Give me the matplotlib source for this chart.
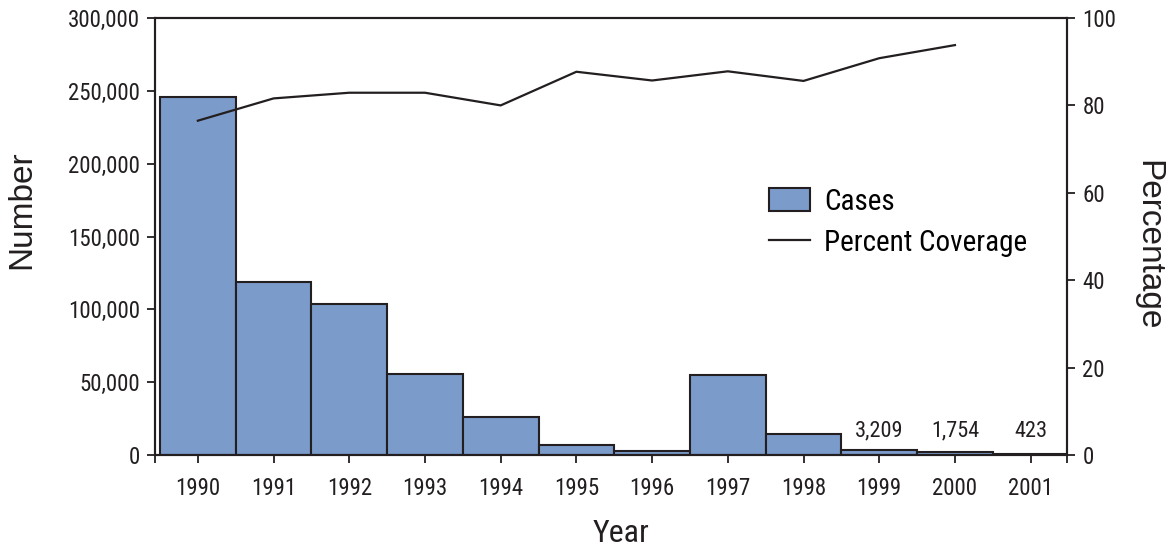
import matplotlib
matplotlib.use("Agg")
import matplotlib.pyplot as plt
import matplotlib.transforms as mtransforms
from matplotlib.ticker import FuncFormatter, FixedLocator

years = ["1990", "1991", "1992", "1993", "1994", "1995", "1996", "1997", "1998", "1999", "2000", "2001"]
cases = [246000, 118500, 104000, 55800, 25800, 6700, 2800, 54800, 14300, 3209, 1754, 423]
coverage = [76.5, 81.6, 82.9, 82.9, 80.0, 87.7, 85.7, 87.8, 85.6, 90.8, 93.8]
labeled = {9: "3,209", 10: "1,754", 11: "423"}

NARROW = ["Roboto Condensed", "Archivo Narrow", "DejaVu Sans"]
REG = ["Liberation Sans", "Arimo", "DejaVu Sans"]
BAR = "#7b9bcb"
DARK = "#231f20"

W, H = 1168, 550
fig = plt.figure(figsize=(W / 100, H / 100), dpi=100)
ax = fig.add_axes([155 / W, 1 - 455 / H, (1067 - 155) / W, 437 / H])

x = list(range(len(years)))
ax.bar(x, cases, width=1.0, color=BAR, edgecolor=DARK, linewidth=1.5, label="Cases", zorder=2)
xl = (-0.566, 11.48)
ax.set_xlim(*xl)
ax.set_ylim(0, 300000)
ax.set_yticks(range(0, 300001, 50000))
ax.yaxis.set_major_formatter(FuncFormatter(lambda v, p: f"{int(v):,}"))
ax.set_xticks(x)
ax.set_xticklabels(years)
ax.xaxis.set_minor_locator(FixedLocator(list(xl)))

ax2 = ax.twinx()
ln, = ax2.plot(x[:len(coverage)], coverage, color=DARK, linewidth=1.6, label="Percent Coverage", zorder=3)
ax2.set_ylim(0, 100)
ax2.set_yticks(range(0, 101, 20))

for a in (ax, ax2):
    for s in a.spines.values():
        s.set_linewidth(1.5)
        s.set_color(DARK)
    a.tick_params(which="both", width=1.3, length=6, color=DARK, labelsize=16.5, labelcolor=DARK)
    for lab in a.get_xticklabels() + a.get_yticklabels():
        lab.set_family(NARROW)
ax.tick_params(axis="x", pad=10)
ax.tick_params(axis="y", pad=5)
ax2.tick_params(axis="y", pad=5)

trans = mtransforms.blended_transform_factory(ax.transData, ax.transAxes)
for i, t in labeled.items():
    ax.text(i, 0.03, t, transform=trans, ha="center", va="bottom", fontsize=16,
            family=NARROW, color=DARK)

fig.text(621 / W, 1 - 534 / H, "Year", fontsize=23, family=NARROW, color=DARK,
         ha="center", va="center")
fig.text(22 / W, 1 - 210 / H, "Number", fontsize=24, family=REG, color=DARK,
         ha="center", va="center", rotation=90)
fig.text(1148 / W, 1 - 245 / H, "Percentage", fontsize=24, family=REG, color=DARK,
         ha="center", va="center", rotation=270)

bars_handle = ax.containers[0]
leg = ax.legend([bars_handle, ln], ["Cases", "Percent Coverage"], loc="upper left",
                bbox_to_anchor=(0.645, 0.672), frameon=False, handlelength=1.4,
                handleheight=0.8, handletextpad=0.48, labelspacing=0.45,
                prop={"family": NARROW, "size": 21})

fig.savefig("out.png", dpi=100)
